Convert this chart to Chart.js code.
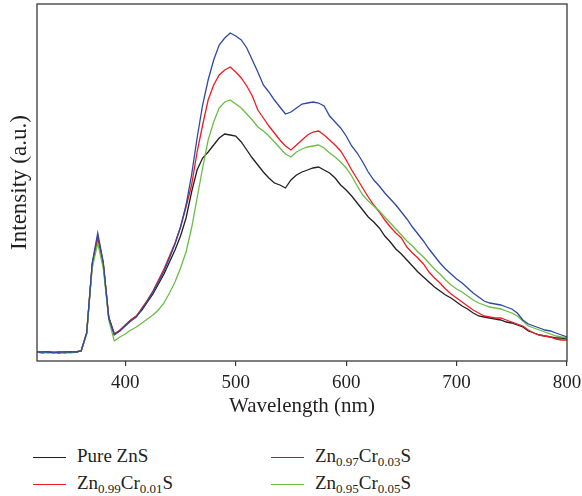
<!DOCTYPE html>
<html>
<head>
<meta charset="utf-8">
<script src="https://cdn.jsdelivr.net/npm/chart.js@4"></script>
<style>
  body { margin: 0; background: #fff; width: 582px; height: 496px; overflow: hidden; position: relative; }
  #plot { position: absolute; left: 0; top: 0; }
  .leg { position: absolute; font-family: "Liberation Serif", "DejaVu Serif", serif; font-size: 19px; line-height: 22px; color: #231f20; white-space: nowrap; }
  .leg sub { font-size: 13px; vertical-align: -4px; line-height: 0; }
  .swatch { position: absolute; height: 0; border-top: 1.5px solid; width: 33px; }
</style>
</head>
<body>
<canvas id="plot" width="582" height="419"></canvas>
<div id="legend"></div>
<script>
// wavelength (nm), 5 nm steps
const wavelengths = [
  320, 325, 330, 335, 340, 345, 350, 355, 360, 365,
  370, 375, 380, 385, 390, 395, 400, 405, 410, 415,
  420, 425, 430, 435, 440, 445, 450, 455, 460, 465,
  470, 475, 480, 485, 490, 495, 500, 505, 510, 515,
  520, 525, 530, 535, 540, 545, 550, 555, 560, 565,
  570, 575, 580, 585, 590, 595, 600, 605, 610, 615,
  620, 625, 630, 635, 640, 645, 650, 655, 660, 665,
  670, 675, 680, 685, 690, 695, 700, 705, 710, 715,
  720, 725, 730, 735, 740, 745, 750, 755, 760, 765,
  770, 775, 780, 785, 790, 795, 800
];

// PL intensity (a.u.)
const pureZnS = [
  9, 9, 9, 9, 8, 9, 9, 9, 10, 28,
  96, 123, 97, 44, 27, 30, 36, 41, 45, 51,
  59, 67, 77, 87, 99, 111, 125, 143, 169, 191,
  203, 209, 216, 223, 227, 226, 225, 219, 211, 203,
  196, 189, 183, 178, 176, 173, 181, 186, 189, 191,
  193, 194, 191, 188, 183, 176, 171, 165, 158, 151,
  144, 139, 133, 125, 119, 112, 107, 101, 95, 89,
  84, 79, 74, 70, 66, 63, 59, 55, 52, 48,
  45, 44, 43, 42, 41, 39, 38, 36, 34, 30,
  28, 26, 25, 24, 23, 23, 22
];

const cr001 = [
  9, 8, 9, 9, 9, 8, 9, 9, 10, 28,
  97, 125, 98, 43, 27, 31, 36, 41, 45, 53,
  61, 70, 81, 92, 105, 118, 134, 154, 176, 209,
  236, 261, 276, 286, 291, 294, 289, 283, 275, 265,
  251, 243, 235, 228, 221, 215, 211, 216, 221, 226,
  229, 230, 226, 221, 216, 210, 201, 191, 182, 173,
  164, 156, 149, 141, 134, 128, 123, 114, 108, 103,
  97, 89, 83, 78, 72, 67, 63, 59, 55, 51,
  48, 45, 44, 43, 43, 41, 39, 37, 35, 31,
  28, 26, 25, 24, 22, 21, 21
];

const cr003 = [
  9, 9, 9, 8, 9, 9, 9, 9, 10, 28,
  98, 128, 99, 43, 26, 30, 35, 40, 44, 52,
  60, 69, 79, 90, 103, 117, 134, 156, 186, 223,
  256, 281, 301, 316, 323, 328, 325, 321, 313, 301,
  289, 276, 269, 261, 254, 247, 249, 253, 257, 258,
  259, 258, 255, 245, 239, 233, 225, 215, 208, 199,
  189, 181, 175, 168, 162, 156, 149, 142, 134, 127,
  120, 112, 105, 98, 92, 87, 82, 78, 73, 68,
  64, 60, 58, 57, 56, 54, 52, 48, 41, 37,
  35, 33, 31, 30, 28, 26, 24
];

const cr005 = [
  9, 9, 8, 9, 9, 9, 8, 9, 10, 27,
  93, 118, 93, 41, 20, 24, 27, 31, 34, 38,
  42, 46, 51, 58, 68, 79, 93, 109, 133, 163,
  193, 221, 239, 253, 259, 261, 257, 253, 247, 241,
  234, 230, 225, 219, 213, 207, 204, 209, 212, 214,
  215, 216, 213, 208, 204, 199, 193, 185, 175, 166,
  160, 155, 150, 144, 138, 132, 126, 120, 115, 109,
  104, 98, 92, 87, 81, 76, 72, 69, 65, 61,
  58, 56, 54, 53, 52, 50, 48, 45, 40, 35,
  33, 31, 29, 27, 25, 24, 23
];

const xTicks = [400, 500, 600, 700, 800];

const seriesNames = [
  "Pure ZnS",
  "Zn<sub>0.99</sub>Cr<sub>0.01</sub>S",
  "Zn<sub>0.97</sub>Cr<sub>0.03</sub>S",
  "Zn<sub>0.95</sub>Cr<sub>0.05</sub>S"
];
const seriesColors = ["#231f20", "#ed1c24", "#2e4a9e", "#6cbd45"];
const seriesData = [pureZnS, cr001, cr003, cr005];

const serif = "'Liberation Serif', 'DejaVu Serif', serif";
const ink = "#231f20";

// plot box drawn on all four sides
const frame = {
  id: "frame",
  afterDraw(chart) {
    const { ctx, chartArea: a } = chart;
    ctx.save();
    ctx.strokeStyle = "#3a3a3a";
    ctx.lineWidth = 1.3;
    ctx.strokeRect(a.left, a.top, a.right - a.left, a.bottom - a.top);
    ctx.restore();
  }
};

new Chart(document.getElementById("plot"), {
  type: "line",
  data: {
    datasets: seriesData.map((values, i) => ({
      label: seriesNames[i],
      data: values.map((v, j) => ({ x: wavelengths[j], y: v })),
      borderColor: seriesColors[i],
      borderWidth: 1.3,
      pointRadius: 0,
      tension: 0,
      fill: false,
      order: [3, 2, 0, 1][i]
    }))
  },
  options: {
    responsive: false,
    animation: false,
    layout: { padding: { left: 0, top: 4, right: 15, bottom: 0 } },
    plugins: { legend: { display: false }, tooltip: { enabled: false } },
    scales: {
      x: {
        type: "linear",
        min: 320,
        max: 800,
        afterBuildTicks: (scale) => {
          scale.ticks = xTicks.map((v) => ({ value: v }));
        },
        afterFit: (scale) => {
          scale.height = 58;
          // let the "800" label hang past the plot edge, as in the original
          scale.paddingLeft = 0;
          scale.paddingRight = 0;
        },
        ticks: {
          color: ink,
          padding: 6,
          font: { family: serif, size: 19 }
        },
        grid: {
          drawOnChartArea: false,
          drawTicks: true,
          tickLength: 5,
          color: "#3a3a3a",
          lineWidth: 1.2
        },
        border: { display: false },
        title: {
          display: true,
          text: "Wavelength (nm)",
          color: ink,
          padding: 0,
          font: { family: serif, size: 21 }
        }
      },
      y: {
        min: 0,
        max: 357,
        afterFit: (scale) => { scale.width = 37; },
        ticks: { display: false },
        grid: { display: false },
        border: { display: false },
        title: {
          display: true,
          text: "Intensity (a.u.)",
          color: ink,
          padding: { top: 6, bottom: 0 },
          font: { family: serif, size: 23 }
        }
      }
    }
  },
  plugins: [frame]
});

// legend with subscripts, two columns
const legendSpots = [
  { left: 33, top: 457 },
  { left: 33, top: 484 },
  { left: 271, top: 457 },
  { left: 271, top: 484 }
];
const legend = document.getElementById("legend");
seriesNames.forEach((name, i) => {
  const spot = legendSpots[i];
  const line = document.createElement("div");
  line.className = "swatch";
  line.style.left = spot.left + "px";
  line.style.top = spot.top + "px";
  line.style.borderTopColor = seriesColors[i];
  legend.appendChild(line);

  const text = document.createElement("div");
  text.className = "leg";
  text.style.left = spot.left + 44 + "px";
  text.style.top = spot.top - 12 + "px";
  text.innerHTML = name;
  legend.appendChild(text);
});
</script>
</body>
</html>
